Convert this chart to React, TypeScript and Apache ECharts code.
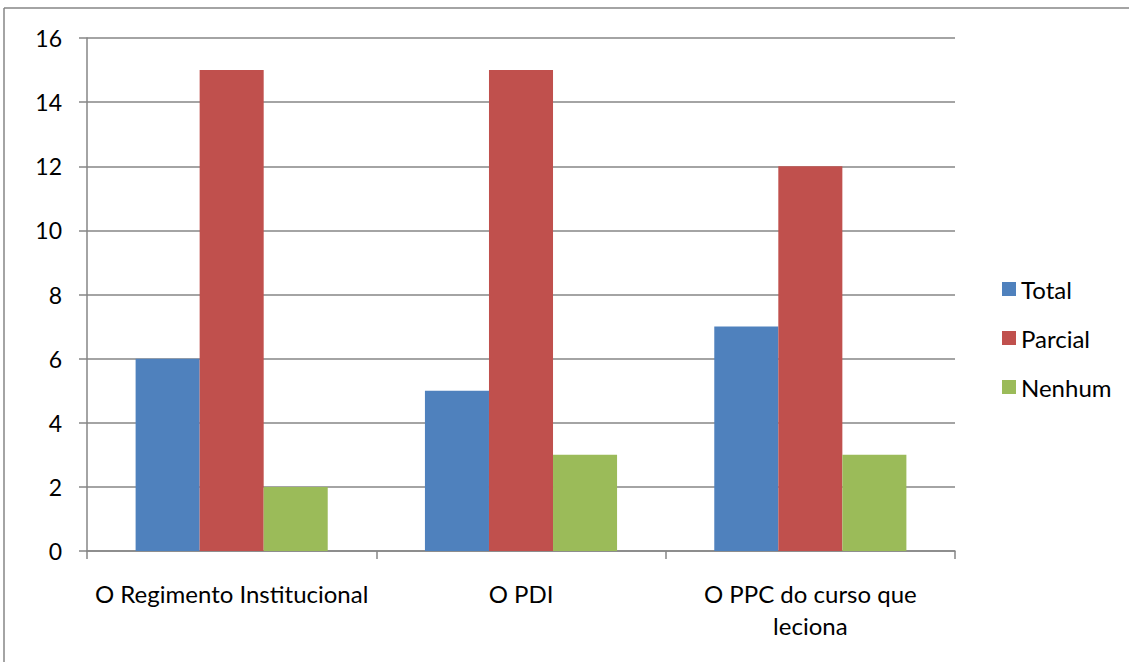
import React, { useEffect, useRef } from "react";
import * as echarts from "echarts";

const categories = ["O Regimento Institucional", "O PDI", "O PPC do curso que\nleciona"];
const seriesNames = ["Total", "Parcial", "Nenhum"];
const totalValues = [6, 5, 7];
const parcialValues = [15, 15, 12];
const nenhumValues = [2, 3, 3];
const colors = ["#4F81BD", "#C0504D", "#9BBB59"];

export default function App() {
  const ref = useRef<HTMLDivElement>(null);
  useEffect(() => {
    if (!ref.current) return;
    const chart = echarts.init(ref.current, null, { renderer: "svg" });
    const font = "Lato, 'Open Sans', sans-serif";
    const gray = "#868686";
    const data = [totalValues, parcialValues, nenhumValues];
    chart.setOption({
      animation: false,
      backgroundColor: "#ffffff",
      textStyle: { fontFamily: font },
      grid: { left: 87, right: 1129 - 955, top: 38, bottom: 662 - 551, containLabel: false },
      legend: {
        orient: "vertical",
        left: 997,
        top: 272,
        itemWidth: 14,
        itemHeight: 14,
        itemGap: 25,
        icon: "rect",
        textStyle: { fontSize: 24, color: "#000", fontFamily: font, lineHeight: 22 },
        data: seriesNames,
      },
      xAxis: {
        type: "category",
        data: categories,
        axisLine: { lineStyle: { color: gray, width: 1.5 } },
        axisTick: { show: true, length: 8, lineStyle: { color: gray, width: 1.5 } },
        axisLabel: { interval: 0, fontSize: 24, color: "#000", margin: 26, lineHeight: 32, fontFamily: font },
      },
      yAxis: {
        type: "value",
        min: 0,
        max: 16,
        interval: 2,
        axisLine: { show: true, lineStyle: { color: gray, width: 1.5 } },
        axisTick: { show: true, length: 8, lineStyle: { color: gray, width: 1.5 } },
        axisLabel: { fontSize: 23, color: "#000", margin: 25, fontFamily: font },
        splitLine: { show: true, lineStyle: { color: gray, width: 1.5 } },
      },
      series: seriesNames.map((name, i) => ({
        name,
        type: "bar",
        data: data[i],
        barGap: "0%",
        barCategoryGap: "33.6%",
        itemStyle: { color: colors[i] },
      })),
      graphic: [
        { type: "line", shape: { x1: 4, y1: 8, x2: 1129, y2: 8 }, style: { stroke: gray, lineWidth: 1.5 } },
        { type: "line", shape: { x1: 4, y1: 8, x2: 4, y2: 662 }, style: { stroke: gray, lineWidth: 1.5 } },
      ],
    });
    return () => chart.dispose();
  }, []);
  return (
    <div
      ref={ref}
      style={{ position: "fixed", left: 0, top: 0, width: 1129, height: 662, background: "#fff" }}
    />
  );
}
